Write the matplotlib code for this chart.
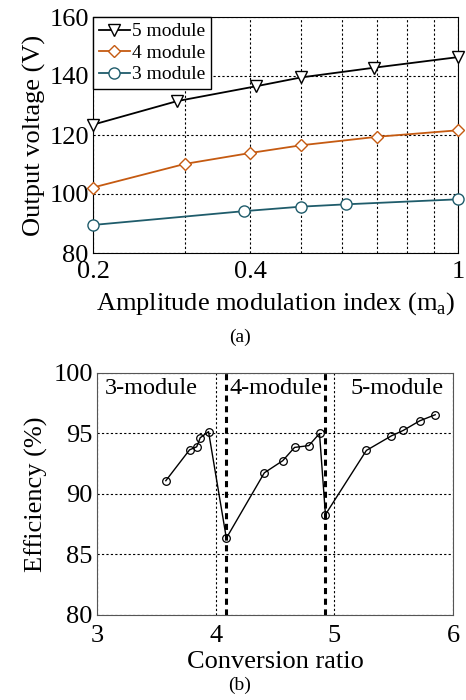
import numpy as np
import matplotlib
matplotlib.use('Agg')
import matplotlib.pyplot as plt
from matplotlib.ticker import FixedLocator, NullFormatter

plt.rcParams['font.family'] = ['Liberation Serif', 'DejaVu Serif']
plt.rcParams['mathtext.fontset'] = 'custom'
plt.rcParams['mathtext.rm'] = 'Liberation Serif'

# (a) output voltage vs amplitude modulation index
ma_5 = [0.2, 0.29, 0.41, 0.5, 0.69, 1.0]
v_5 = [123.5, 131.5, 136.5, 139.5, 142.8, 146.4]
ma_4 = [0.2, 0.3, 0.4, 0.5, 0.7, 1.0]
v_4 = [102.2, 110.2, 113.9, 116.5, 119.4, 121.6]
ma_3 = [0.2, 0.39, 0.5, 0.61, 1.0]
v_3 = [89.5, 94.2, 95.7, 96.5, 98.2]

# (b) efficiency vs conversion ratio
ratio = [3.58, 3.78, 3.84, 3.87, 3.94, 4.09, 4.41, 4.565, 4.665, 4.785, 4.875,
         4.925, 5.27, 5.48, 5.58, 5.72, 5.85]
eff = [91.1, 93.65, 93.9, 94.65, 95.15, 86.35, 91.75, 92.75, 93.85, 94.0, 95.0,
       88.3, 93.6, 94.8, 95.25, 96.05, 96.55]
boundaries = [4.09, 4.925]
region_labels = ['3-module', '4-module', '5-module']
region_x = [3.07, 4.12, 5.14]

W, H = 466, 700
fig = plt.figure(figsize=(W/100, H/100), dpi=100)

# top plot
ax1 = fig.add_axes([93/W, 1-253/H, 365/W, 236/H])
ax1.plot(ma_5, v_5, '-v', color='black', lw=1.3, ms=8, mfc='white', mew=1.0,
         label='5 module', clip_on=False, zorder=3)
ax1.plot(ma_4, v_4, '-D', color='#c55a11', lw=1.3, ms=6, mfc='white', mew=1.0,
         label='4 module', clip_on=False, zorder=3)
ax1.plot(ma_3, v_3, '-o', color='#1f5c6b', lw=1.3, ms=8, mfc='white', mew=1.0,
         label='3 module', clip_on=False, zorder=3)
ax1.set_xscale('log')
ax1.set_xlim(0.2, 1)
ax1.set_ylim(80, 160)
ax1.xaxis.set_major_locator(FixedLocator([0.2, 0.4, 1]))
ax1.xaxis.set_minor_locator(FixedLocator([0.3, 0.5, 0.6, 0.7, 0.8, 0.9]))
ax1.xaxis.set_minor_formatter(NullFormatter())
ax1.set_xticklabels(['0.2', '0.4', '1'])
ax1.set_yticks([80, 100, 120, 140, 160])
ax1.grid(True, which='both', axis='x', ls=(0, (2, 2)), color='black', lw=0.8)
ax1.grid(True, which='major', axis='y', ls=(0, (2, 2)), color='black', lw=0.8)
ax1.tick_params(which='both', length=0, labelsize=19)
ax1.tick_params(axis='x', pad=6)
ax1.tick_params(axis='y', pad=3)
ax1.set_xlabel(r'Amplitude modulation index (m$_\mathrm{a}$)', fontsize=19, labelpad=5)
ax1.set_ylabel('Output voltage (V)', fontsize=19, labelpad=2)
leg = ax1.legend(loc='upper left', fontsize=14, handlelength=1.6, handletextpad=0.1,
                 borderaxespad=0, fancybox=False, edgecolor='black',
                 framealpha=1, borderpad=0.3, labelspacing=0.2)
leg.get_frame().set_linewidth(1.0)
fig.text(240/W, 1-337/H, '(a)', ha='center', va='center', fontsize=14)

# bottom plot
ax2 = fig.add_axes([97/W, 1-615/H, 356/W, 242/H])
ax2.plot(ratio, eff, '-o', color='black', lw=1.0, ms=5.5, mfc='none', mew=0.9)
for b in boundaries:
    ax2.axvline(b, color='black', lw=2.2, ls=(0, (2, 1.5)))
for x, t in zip(region_x, region_labels):
    ax2.text(x, 98.75, t, fontsize=17.5, ha='left', va='center')
ax2.set_xlim(3, 6)
ax2.set_ylim(80, 100)
ax2.set_xticks([3, 4, 5, 6])
ax2.set_yticks([80, 85, 90, 95, 100])
ax2.grid(True, ls=(0, (2, 2)), color='black', lw=0.8)
ax2.tick_params(length=0, labelsize=19)
ax2.tick_params(axis='x', pad=7)
ax2.tick_params(axis='y', pad=3)
ax2.set_xlabel('Conversion ratio', fontsize=19, labelpad=3)
ax2.set_ylabel('Efficiency (%)', fontsize=19, labelpad=4)
for sp in ax2.spines.values():
    sp.set_color('#555555')
fig.text(240/W, 1-685/H, '(b)', ha='center', va='center', fontsize=14)

fig.savefig('out.png', dpi=100)
